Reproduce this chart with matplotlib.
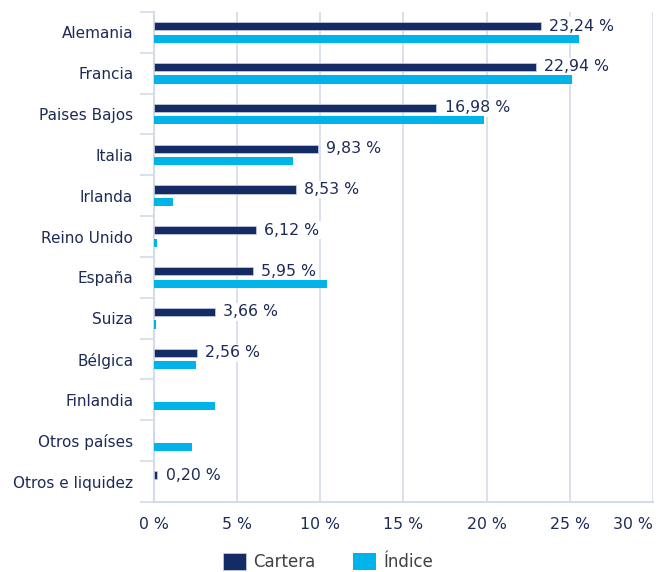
import numpy as np
import matplotlib
matplotlib.use("Agg")
import matplotlib.pyplot as plt

# Chart data
paises = ["Alemania", "Francia", "Paises Bajos", "Italia", "Irlanda", "Reino Unido",
          "España", "Suiza", "Bélgica", "Finlandia", "Otros países", "Otros e liquidez"]
cartera = [23.24, 22.94, 16.98, 9.83, 8.53, 6.12, 5.95, 3.66, 2.56, 0.0, 0.0, 0.20]
indice = [25.57, 25.15, 19.86, 8.34, 1.14, 0.20, 10.42, 0.10, 2.55, 3.67, 2.28, 0.0]
xticks = [0, 5, 10, 15, 20, 25, 30]

navy = "#142b66"
cyan = "#00b4ea"
text_navy = "#1d2b57"
grid_col = "#d3dcea"

fig = plt.figure(figsize=(6.65, 5.72), dpi=100)
ax = fig.add_axes([154 / 665, 1 - 502 / 572, (653 - 154) / 665, (502 - 12) / 572])

y = np.arange(len(paises))
off = 0.155
h = 0.2

b1 = ax.barh(y - off, cartera, height=h, color=navy, edgecolor="#c9d1e3",
             linewidth=0.5, zorder=3, label="Cartera")
b2 = ax.barh(y + off, indice, height=h, color=cyan, zorder=3, label="Índice")

# value labels on the Cartera bars
for yi, v in zip(y, cartera):
    if v <= 0:
        continue
    ax.annotate(f"{v:.2f}".replace(".", ",") + " %", xy=(v, yi - off),
                xytext=(6, 0), textcoords="offset points", ha="left", va="center",
                fontsize=11.3, color=text_navy, zorder=2,
                bbox=dict(boxstyle="square,pad=0.08", fc="white", ec="none"))

ax.set_xlim(0, 30)
ax.set_ylim(len(paises) - 0.5, -0.5)

ax.set_xticks(xticks)
ax.set_xticklabels([f"{t} %" for t in xticks], fontsize=11.3, color=text_navy)
ax.get_xticklabels()[-1].set_horizontalalignment("right")
ax.tick_params(axis="x", length=0, pad=11)
ax.xaxis.grid(True, color=grid_col, linewidth=1.2, zorder=0)

# boundaries as major ticks, country names on minor ticks
ax.set_yticks(np.arange(-0.5, len(paises), 1.0))
ax.set_yticklabels([])
ax.set_yticks(y, minor=True)
ax.set_yticklabels(paises, minor=True, fontsize=11, color=text_navy)
ax.tick_params(axis="y", which="major", length=10, width=1.2, color=grid_col, direction="out")
ax.tick_params(axis="y", which="minor", length=0, pad=15)

for side in ["top", "right"]:
    ax.spines[side].set_visible(False)
for side in ["left", "bottom"]:
    ax.spines[side].set_color(grid_col)
    ax.spines[side].set_linewidth(1.5)
ax.set_axisbelow(True)

fig.legend(handles=[b1, b2], labels=["Cartera", "Índice"], loc="center",
           bbox_to_anchor=(328 / 665, 10 / 572), ncol=2, frameon=False,
           fontsize=12, labelcolor="#404040", handlelength=1.4, handleheight=1.2,
           handletextpad=0.45, columnspacing=2.2)

fig.savefig("out.png", dpi=100)
